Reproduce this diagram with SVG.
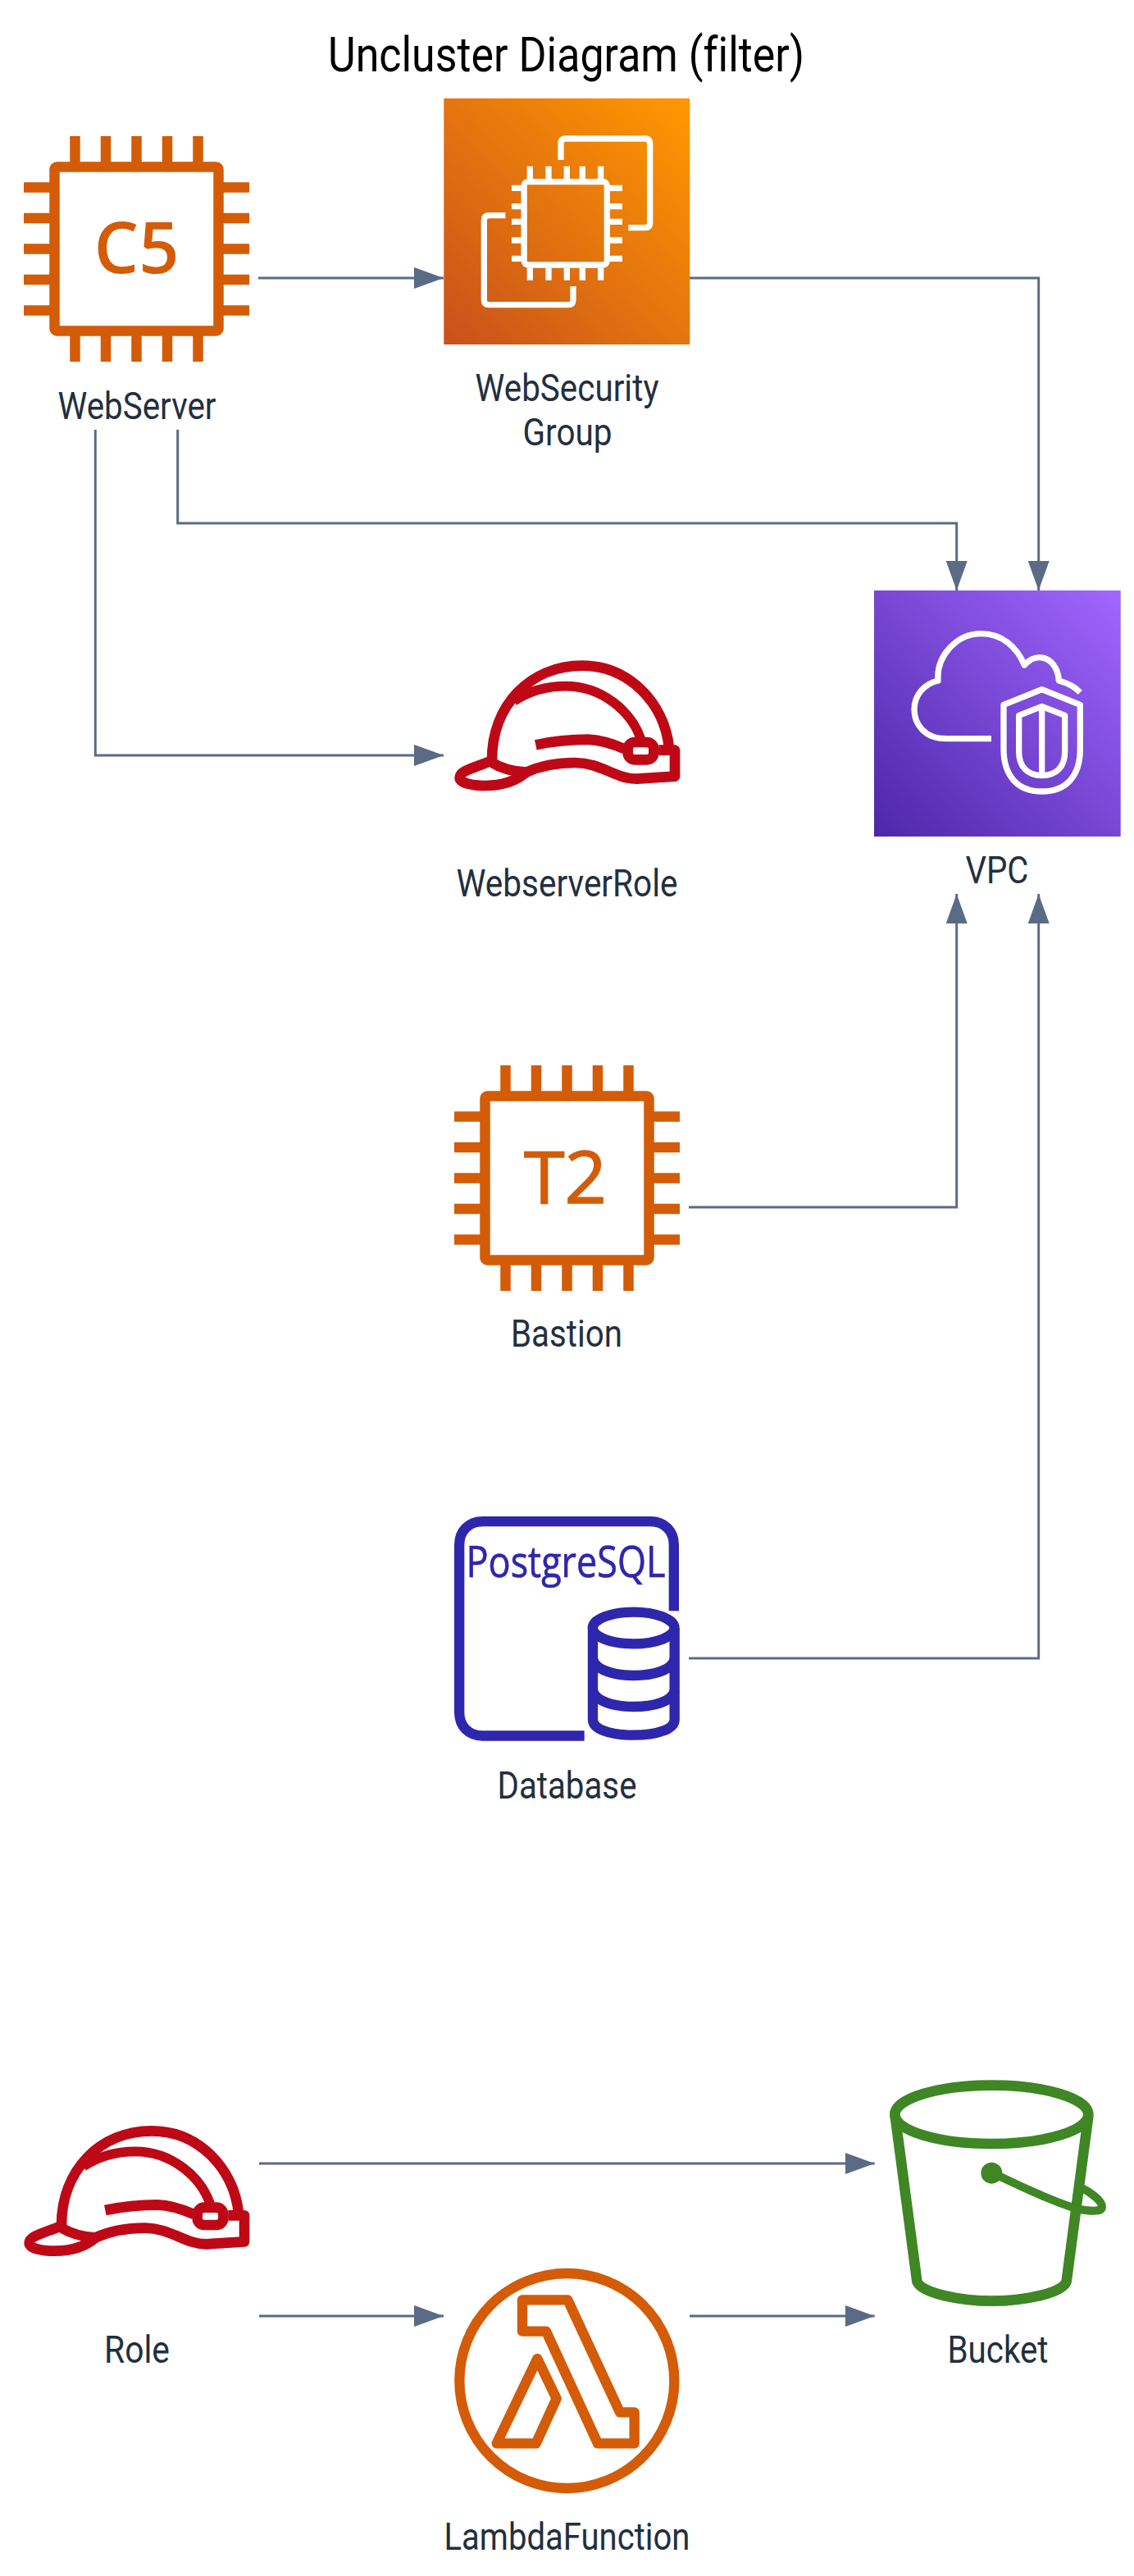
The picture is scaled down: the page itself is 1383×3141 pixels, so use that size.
<svg xmlns="http://www.w3.org/2000/svg" xmlns:xlink="http://www.w3.org/1999/xlink" width="1383" height="3141" viewBox="0 0 1383 3141">
<style>
text{font-variant-ligatures:none}
.lbl{font-family:"Roboto","Liberation Sans",sans-serif;font-size:47px;fill:#232F3E;text-anchor:middle}
.ttl{font-family:"Roboto","Liberation Sans",sans-serif;font-size:60px;fill:#000;text-anchor:middle}
.con{fill:none;stroke:#5A6B86;stroke-width:3;marker-end:url(#ah)}
.w{fill:none;stroke:#fff;stroke-width:22}
.h{fill:none;stroke:#BF0816;stroke-width:38}
.b{fill:none;stroke:#3F8624;stroke-width:38}
.d{fill:none;stroke:#2E27AD;stroke-width:37}
.l{fill:none;stroke:#D45B07;stroke-width:37;stroke-linejoin:round}
</style>
<defs>
<marker id="ah" markerUnits="userSpaceOnUse" markerWidth="37" markerHeight="26" refX="36" refY="13" orient="auto"><path d="M0 0L36 13L0 26Z" fill="#5A6B86"/></marker>
<linearGradient id="gO" x1="0" y1="1" x2="1" y2="0"><stop offset="0" stop-color="#C8511B"/><stop offset="1" stop-color="#FF9900"/></linearGradient>
<linearGradient id="gP" x1="0" y1="1" x2="1" y2="0"><stop offset="0" stop-color="#4D27A8"/><stop offset="1" stop-color="#A166FF"/></linearGradient>
<g id="chip">
<rect x="37.5" y="37.5" width="200" height="200" rx="3" fill="none" stroke="#D45B07" stroke-width="12.5"/>
<path d="M62.5 0V32M100 0V32M137.5 0V32M175 0V32M212.5 0V32M62.5 243V275M100 243V275M137.5 243V275M175 243V275M212.5 243V275M0 62.5H32M0 100H32M0 137.5H32M0 175H32M0 212.5H32M243 62.5H275M243 100H275M243 137.5H275M243 175H275M243 212.5H275" fill="none" stroke="#D45B07" stroke-width="12.5"/>
</g>
<g id="helmet">
<path class="h" d="M240 440C240 240 380 95 570 95C740 95 870 230 888 395"/>
<path class="h" d="M320 225C380 185 440 170 510 170C640 170 750 260 785 365" style="stroke-width:35"/>
<path class="h" d="M400 385C470 370 530 365 590 365C640 367 680 380 725 400"/>
<rect class="h" x="737" y="375" width="95" height="64" rx="25"/>
<path class="h" d="M850 404L909 404V500L770 509C690 509 640 450 545 450C470 450 410 465 365 485" stroke-linejoin="round"/>
<path class="h" d="M232 445C170 470 122 480 122 505C122 525 170 534 215 534C280 534 330 515 365 485C320 483 280 475 232 445Z"/>
</g>
</defs>
<rect width="1383" height="3141" fill="#fff"/>
<text class="ttl" x="690.500" y="86.500" textLength="581" lengthAdjust="spacingAndGlyphs">Uncluster Diagram (filter)</text>
<g id="connectors">
<path class="con" d="M315 339H541"/>
<path class="con" d="M841 339H1266.700V720"/>
<path class="con" d="M216.700 524V638H1166.700V720"/>
<path class="con" d="M116.300 524V921H541"/>
<path class="con" d="M840 1472H1166.700V1090"/>
<path class="con" d="M840 2022H1266.700V1090"/>
<path class="con" d="M316 2638H1066.700"/>
<path class="con" d="M316 2824H541"/>
<path class="con" d="M841 2824H1066.700"/>
</g>
<g id="WebServer">
<use xlink:href="#chip" href="#chip" x="29" y="166"/>
<text x="166.500" y="333" font-family="Open Sans,sans-serif" font-weight="600" font-size="86" fill="#D45B07" text-anchor="middle" textLength="104" lengthAdjust="spacingAndGlyphs">C5</text>
<text class="lbl" x="167" y="511" textLength="193" lengthAdjust="spacingAndGlyphs">WebServer</text>
</g>
<g id="WebSecurityGroup">
<rect x="541.300" y="120" width="300" height="300" fill="url(#gO)"/>
<g transform="translate(520 100) scale(.33333)">
<rect class="w" x="357.500" y="365" width="303.500" height="304" rx="14"/>
<path class="w" d="M379 308V355M447 308V355M514 308V355M571 308V355M638 308V355M379 680V725M447 680V725M514 680V725M571 680V725M638 680V725M312 388H347M312 455H347M312 511H347M312 579H347M312 646H347M672 388H717M672 455H717M672 511H717M672 579H717M672 646H717"/>
<path class="w" d="M492 285V225Q492 207 510 207H800Q818 207 818 225V515Q818 533 800 533H739"/>
<path class="w" d="M289 488H230Q211 488 211 506V797Q211 815 230 815H518Q537 815 537 797V747"/>
</g>
<text class="lbl" x="691.500" y="489" textLength="224" lengthAdjust="spacingAndGlyphs">WebSecurity</text>
<text class="lbl" x="692" y="543" textLength="109" lengthAdjust="spacingAndGlyphs">Group</text>
</g>
<g id="VPC">
<rect x="1066" y="720" width="300.700" height="300" fill="url(#gP)"/>
<g transform="translate(1040 700) scale(.33333)">
<path class="w" stroke-linejoin="round" d="M507 602H340C265 602 225 550 225 495C225 440 265 400 312 390C305 300 380 218 470 218C545 218 600 265 628 333C645 315 660 305 682 305C725 305 752 345 754 390C785 398 810 410 832 433"/>
<path class="w" stroke-linejoin="round" d="M692 422L832 478V640C832 740 780 795 692 795C605 795 552 740 552 640V478Z"/>
<path class="w" stroke-linejoin="round" d="M692 484L776 517V650C776 705 745 737 692 737C640 737 608 705 608 650V517Z"/>
<path class="w" d="M692 484V737"/>
</g>
<text class="lbl" x="1216" y="1077" textLength="77" lengthAdjust="spacingAndGlyphs">VPC</text>
</g>
<g id="WebserverRole">
<use xlink:href="#helmet" href="#helmet" transform="translate(520 780) scale(.33333)"/>
<text class="lbl" x="691.500" y="1093" textLength="270" lengthAdjust="spacingAndGlyphs">WebserverRole</text>
</g>
<g id="Bastion">
<use xlink:href="#chip" href="#chip" x="554" y="1299"/>
<text x="689.500" y="1467" font-family="Open Sans,sans-serif" font-weight="500" font-size="88" fill="#D45B07" stroke="#D45B07" stroke-width="1.5" text-anchor="middle" textLength="101" lengthAdjust="spacingAndGlyphs">T2</text>
<text class="lbl" x="691" y="1642" textLength="136" lengthAdjust="spacingAndGlyphs">Bastion</text>
</g>
<g id="Database">
<g transform="translate(530 1820) scale(.33333)">
<path class="d" d="M548 889.500H176C125 889.500 90.500 855 90.500 804V191C90.500 140 125 105.500 176 105.500H790C841 105.500 875.500 140 875.500 191V433"/>
<ellipse class="d" cx="728" cy="495" rx="149.500" ry="58"/>
<path class="d" d="M579 495V830C579 865 640 887 728 887C816 887 878 865 878 830V495"/>
<path class="d" d="M579 610C590 650 660 669 728 669C800 669 868 650 878 610"/>
<path class="d" d="M579 725C590 765 660 783 728 783C800 783 868 765 878 725"/>
</g>
<text x="690" y="1923" font-family="Open Sans,sans-serif" font-weight="500" font-size="53" fill="#2E27AD" stroke="#2E27AD" stroke-width=".7" text-anchor="middle" textLength="243" lengthAdjust="spacingAndGlyphs">PostgreSQL</text>
<text class="lbl" x="691.500" y="2193" textLength="170" lengthAdjust="spacingAndGlyphs">Database</text>
</g>
<g id="Role">
<use xlink:href="#helmet" href="#helmet" transform="translate(-5 2566.670) scale(.33333)"/>
<text class="lbl" x="167" y="2881" textLength="80" lengthAdjust="spacingAndGlyphs">Role</text>
</g>
<g id="LambdaFunction">
<g transform="translate(530 2720) scale(.33333)">
<circle class="l" cx="484" cy="549" r="393"/>
<path class="l" d="M321 253H487L678 664H731V778H597L408 368H321Z"/>
<path class="l" d="M376 468L446 614L371 778H227Z"/>
</g>
<text class="lbl" x="691.500" y="3109" textLength="300" lengthAdjust="spacingAndGlyphs">LambdaFunction</text>
</g>
<g id="Bucket">
<g transform="translate(1040 2500) scale(.33333)">
<ellipse class="b" cx="508" cy="235" rx="354" ry="107"/>
<path class="b" d="M155 240L235 845C250 890 400 917 508 917C620 917 770 890 782 845L862 240"/>
<circle cx="508" cy="449" r="39" fill="#3F8624"/>
<path class="b" style="stroke-width:30" d="M535 460C650 515 760 565 830 582C880 590 912 590 912 572C912 550 870 520 840 505"/>
</g>
<text class="lbl" x="1217" y="2881" textLength="123" lengthAdjust="spacingAndGlyphs">Bucket</text>
</g>
</svg>
